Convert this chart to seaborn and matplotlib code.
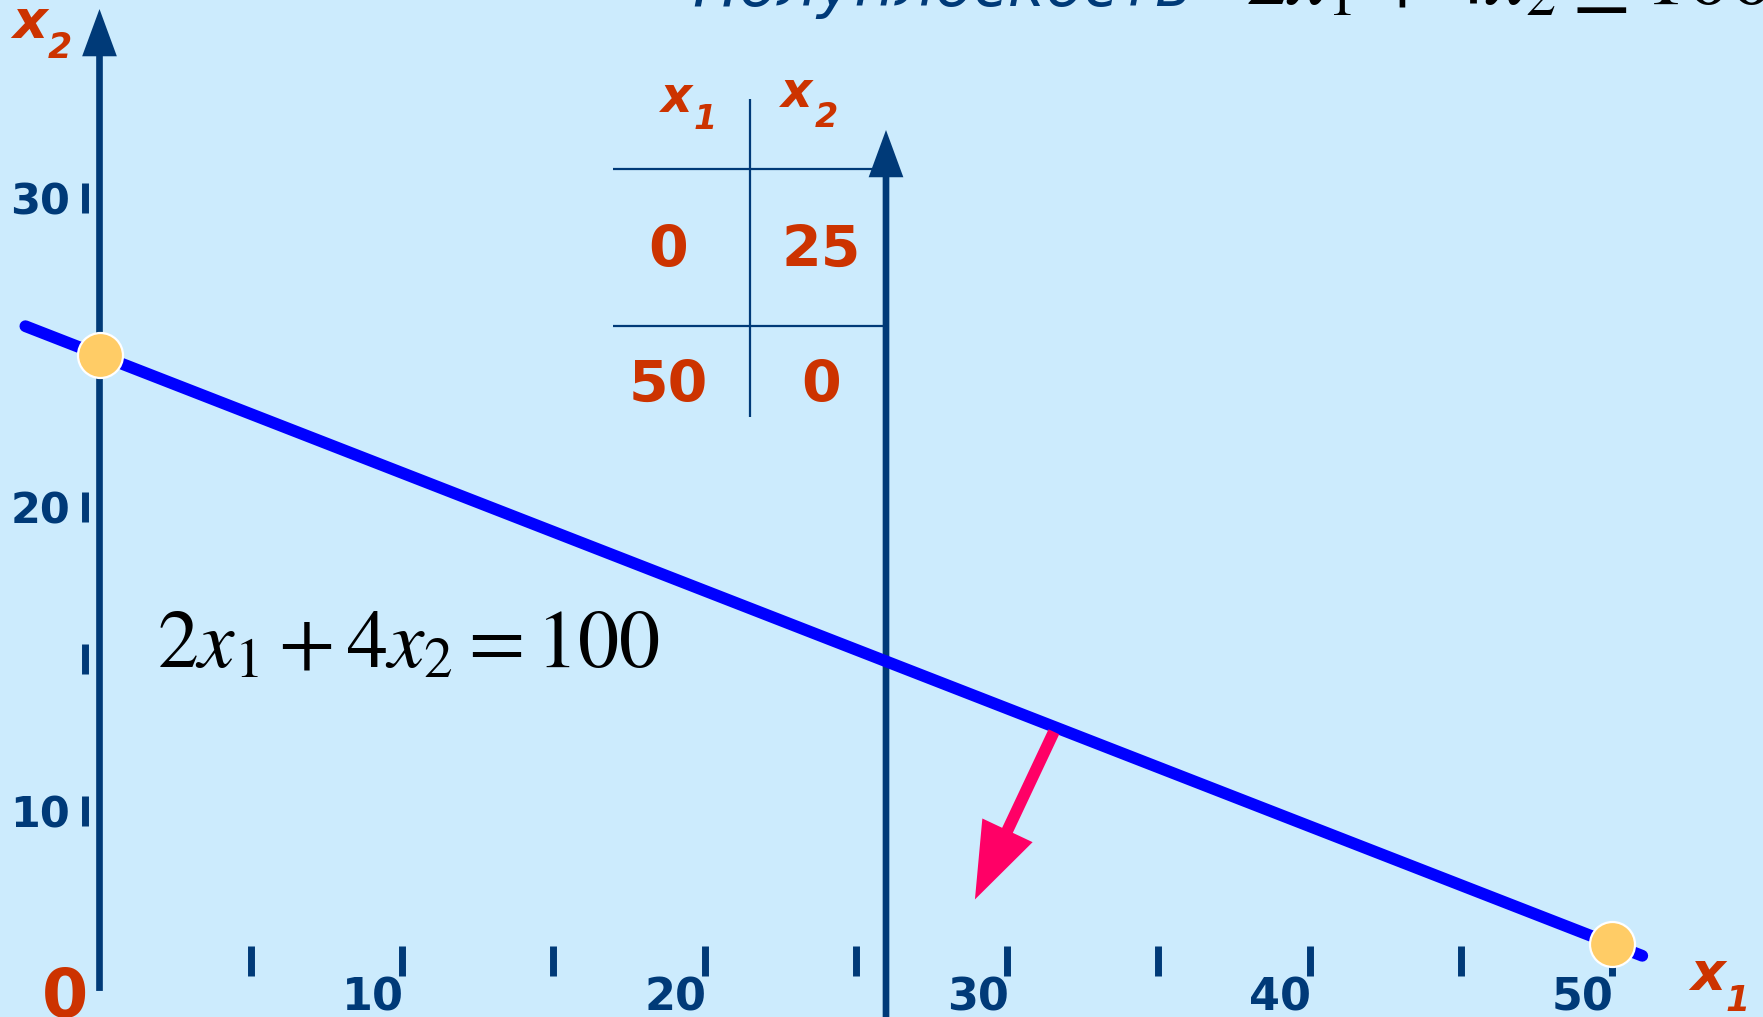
import numpy as np
import matplotlib
matplotlib.use("Agg")
import matplotlib.pyplot as plt
import seaborn as sns
from matplotlib.patches import FancyArrowPatch

# points of the line 2x1 + 4x2 = 100 (table values)
x1_pts = [0, 50]
x2_pts = [25, 0]
# drawn extent of the line
line_x1 = [-2.45, 51.0]
line_x2 = [26.2, -0.5]

# x ticks
xtick_vals = [5, 10, 15, 20, 25, 30, 35, 40, 45, 50]
xtick_labels = ['', '10', '', '20', '', '30', '', '40', '', '50']
# y ticks (where they sit in the picture) and their labels
ytick_pos = [31.62, 18.53, 12.08, 5.64]
ytick_labels = ['30', '20', '', '10']

# normal arrow (start on the line, tip in the half-plane)
normal_start = (31.55, 9.0)
normal_end = (28.94, 1.89)
vline_x = 26

bg = '#CCEBFD'
navy = '#003A78'
red = '#CC3300'

sns.set_style('white')
plt.rcParams['font.family'] = ['DejaVu Sans']
plt.rcParams['mathtext.fontset'] = 'stix'

fig = plt.figure(figsize=(17.63, 10.17), dpi=100, facecolor=bg)
ax = fig.add_axes([0, 0, 1, 1])
ax.set_facecolor(bg)
ax.set_xlim(-99.5 / 30.25, (1763 - 99.5) / 30.25)
ax.set_ylim(-(1017 - 944) / 23.58, 944 / 23.58)
ax.axis('off')

# axes with arrows
def axis_arrow(p0, p1, z=2):
    a = FancyArrowPatch(p0, p1, arrowstyle='simple,head_length=34,head_width=25,tail_width=4.8',
                        mutation_scale=1, color=navy, lw=0, shrinkA=0, shrinkB=0, zorder=z)
    ax.add_patch(a)

axis_arrow((0, -1.99), (0, 39.65))
axis_arrow((vline_x, -4), (vline_x, 34.52))

# x tick marks and labels
ax.vlines(xtick_vals, -1.357, -0.085, colors=navy, lw=5, capstyle='butt')
for v, lab in zip(xtick_vals, xtick_labels):
    ax.text(v + 0.05, -2.84, lab, ha='right', va='baseline', fontsize=32,
            fontweight='bold', color=navy)

# y tick marks and labels
ax.vlines([-0.48] * len(ytick_pos), np.array(ytick_pos) - 0.64, np.array(ytick_pos) + 0.64,
          colors=navy, lw=5, capstyle='butt')
for p, lab in zip(ytick_pos, ytick_labels):
    ax.text(-0.975, p - 0.7, lab, ha='right', va='baseline', fontsize=31,
            fontweight='bold', color=navy)

# origin and axis names
ax.text(-1.14, -3.08, '0', ha='center', va='baseline', fontsize=48, fontweight='bold', color=red)
ax.text(-2.30, 38.42, 'x', ha='center', va='baseline', fontsize=39, fontweight='bold',
        fontstyle='italic', color=red)
ax.text(-1.31, 37.57, '2', ha='center', va='baseline', fontsize=25, fontweight='bold',
        fontstyle='italic', color=red)
ax.text(53.16, -1.95, 'x', ha='center', va='baseline', fontsize=39, fontweight='bold',
        fontstyle='italic', color=red)
ax.text(54.15, -2.84, '1', ha='center', va='baseline', fontsize=25, fontweight='bold',
        fontstyle='italic', color=red)

# table
ax.hlines([32.87, 26.21], 16.96, vline_x, colors=navy, lw=1.6)
ax.vlines([21.49], 22.35, 35.84, colors=navy, lw=1.6)
ax.text(19.09, 35.28, 'x', ha='center', va='baseline', fontsize=35, fontweight='bold',
        fontstyle='italic', color=red)
ax.text(20.02, 34.56, '1', ha='center', va='baseline', fontsize=24, fontweight='bold',
        fontstyle='italic', color=red)
ax.text(23.06, 35.50, 'x', ha='center', va='baseline', fontsize=35, fontweight='bold',
        fontstyle='italic', color=red)
ax.text(24.02, 34.65, '2', ha='center', va='baseline', fontsize=24, fontweight='bold',
        fontstyle='italic', color=red)
for row_y, a, b in zip([28.71, 22.99], x1_pts, x2_pts):
    ax.text(18.8, row_y, str(a), ha='center', va='baseline', fontsize=41, fontweight='bold', color=red)
    ax.text(23.85, row_y, str(b), ha='center', va='baseline', fontsize=41, fontweight='bold', color=red)

# the line and its two points
sns.lineplot(x=line_x1, y=line_x2, color='#0000FF', lw=8.5, ax=ax, zorder=3)
sns.scatterplot(x=x1_pts, y=x2_pts, s=1050, color='#FFCC66', edgecolor='white',
                linewidth=1.6, ax=ax, zorder=5)

# normal arrow
ax.add_patch(FancyArrowPatch(normal_start, normal_end,
                             arrowstyle='simple,head_length=55,head_width=40,tail_width=8.5',
                             mutation_scale=1, color='#FF0066', lw=0, shrinkA=0, shrinkB=0,
                             zorder=4))

# equation and (cut) title
ax.text(1.90, 11.75, r'$2x_1+4x_2=100$', ha='left', va='baseline', fontsize=59, color='black')
ax.text(19.6, 39.76, 'Полуплоскость', ha='left', va='baseline', fontsize=45,
        fontstyle='italic', color=navy)
ax.text(37.87, 39.9, r'$2x_1+4x_2\geq 100$', ha='left', va='baseline', fontsize=62, color='black')

fig.savefig('out.png', dpi=100, facecolor=bg)
